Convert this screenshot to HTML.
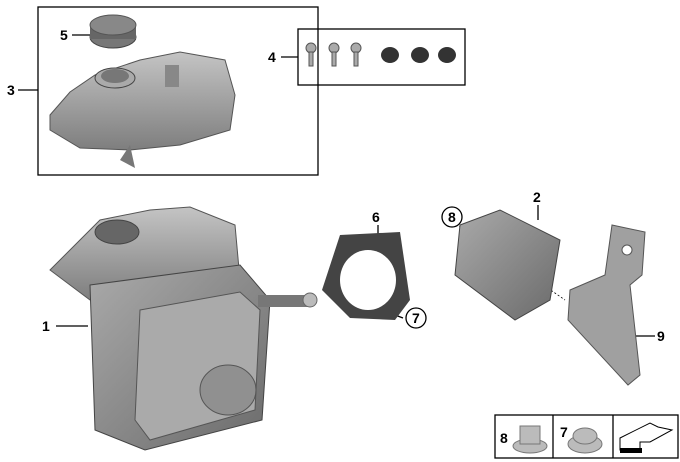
<!DOCTYPE html>
<html><head><style>body{margin:0;background:#fff}svg{display:block}text{font-family:"Liberation Sans",sans-serif;font-weight:bold;font-size:14px;fill:#000}</style></head><body>
<svg width="680" height="462" viewBox="0 0 680 462" xmlns="http://www.w3.org/2000/svg">
<defs>
<linearGradient id="g" x1="0" y1="0" x2="0" y2="1"><stop offset="0" stop-color="#c4c4c4"/><stop offset="1" stop-color="#7e7e7e"/></linearGradient>
<linearGradient id="g2" x1="0" y1="0" x2="1" y2="1"><stop offset="0" stop-color="#aaa"/><stop offset="1" stop-color="#6a6a6a"/></linearGradient>
</defs>
<g fill="none" stroke="#000" stroke-width="1.3">
<rect x="38" y="7" width="280" height="168"/>
<rect x="298" y="29" width="167" height="56"/>
<rect x="495" y="415" width="183" height="43"/>
<line x1="553" y1="415" x2="553" y2="458"/><line x1="613" y1="415" x2="613" y2="458"/>
<line x1="18" y1="90" x2="38" y2="90"/><line x1="72" y1="35" x2="90" y2="35"/><line x1="281" y1="57" x2="298" y2="57"/>
<line x1="56" y1="326" x2="88" y2="326"/><line x1="378" y1="225" x2="378" y2="235"/><line x1="403" y1="318" x2="395" y2="315"/>
<line x1="538" y1="205" x2="538" y2="220"/><line x1="636" y1="336" x2="655" y2="336"/>
<line x1="456" y1="224" x2="565" y2="300" stroke-dasharray="2,2" stroke-width="0.8"/>
<line x1="330" y1="290" x2="392" y2="290" stroke-dasharray="3,2" stroke-width="0.8"/>
</g>
<text x="7" y="95">3</text><text x="60" y="40">5</text><text x="268" y="62">4</text>
<text x="42" y="331">1</text><text x="372" y="222">6</text><text x="533" y="202">2</text><text x="657" y="341">9</text>
<circle cx="416" cy="318" r="10" fill="#fff" stroke="#000" stroke-width="1.3"/><text x="412" y="323" font-size="12">7</text>
<circle cx="452" cy="217" r="10" fill="#fff" stroke="#000" stroke-width="1.3"/><text x="448" y="222" font-size="12">8</text>
<text x="500" y="443" font-size="16">8</text><text x="560" y="437" font-size="16">7</text>
<path d="M50 115 L70 92 L95 75 L140 60 L180 52 L225 60 L235 95 L230 130 L180 145 L130 150 L80 148 L50 130 Z" fill="url(#g)" stroke="#555"/>
<path d="M120 160 L130 145 L135 168 Z" fill="#777"/>
<ellipse cx="115" cy="78" rx="20" ry="10" fill="#aaa" stroke="#444"/><ellipse cx="115" cy="76" rx="14" ry="7" fill="#777"/>
<rect x="165" y="65" width="14" height="22" fill="#888"/>
<ellipse cx="113" cy="37" rx="23" ry="11" fill="#777" stroke="#444"/><rect x="90" y="25" width="46" height="14" fill="#666"/><ellipse cx="113" cy="25" rx="23" ry="10" fill="#888" stroke="#555"/>
<g fill="#aaa" stroke="#555"><circle cx="311" cy="48" r="5"/><circle cx="334" cy="48" r="5"/><circle cx="356" cy="48" r="5"/>
<rect x="309" y="52" width="4" height="14"/><rect x="332" y="52" width="4" height="14"/><rect x="354" y="52" width="4" height="14"/></g>
<g fill="#333"><ellipse cx="390" cy="55" rx="9" ry="8"/><ellipse cx="420" cy="55" rx="9" ry="8"/><ellipse cx="447" cy="55" rx="9" ry="8"/></g>
<path d="M50 270 L75 245 L100 220 L150 210 L190 207 L235 225 L240 280 L90 300 Z" fill="url(#g)" stroke="#555"/>
<ellipse cx="117" cy="232" rx="22" ry="12" fill="#666" stroke="#444"/>
<path d="M90 285 L240 265 L270 300 L262 420 L145 450 L95 430 Z" fill="url(#g2)" stroke="#444"/>
<path d="M140 310 L240 292 L260 310 L255 410 L150 440 L135 420 Z" fill="#aaa" stroke="#555"/>
<ellipse cx="228" cy="390" rx="28" ry="25" fill="#909090" stroke="#555"/>
<rect x="258" y="295" width="50" height="12" fill="#777"/><circle cx="310" cy="300" r="7" fill="#bbb" stroke="#666"/>
<path d="M340 235 L400 232 L410 300 L395 320 L350 318 L322 290 Z" fill="#444"/>
<ellipse cx="368" cy="280" rx="28" ry="30" fill="#fff"/>
<path d="M460 225 L500 210 L560 240 L550 300 L515 320 L455 275 Z" fill="url(#g2)" stroke="#444"/>
<path d="M612 225 L645 232 L642 275 L630 285 L640 375 L628 385 L568 320 L570 290 L605 275 Z" fill="#a0a0a0" stroke="#555"/>
<circle cx="627" cy="250" r="5" fill="#fff" stroke="#555"/>
<g fill="#bbb" stroke="#777"><ellipse cx="530" cy="446" rx="17" ry="7"/><rect x="520" y="426" width="20" height="18"/><ellipse cx="585" cy="444" rx="17" ry="9"/><ellipse cx="585" cy="436" rx="12" ry="8"/></g>
<path d="M620 438 L650 423 L658 427 L672 430 L650 442 L640 442 L640 450 L620 450 Z" fill="#fff" stroke="#000"/>
<rect x="620" y="448" width="22" height="5" fill="#000"/>
</svg>
</body></html>
